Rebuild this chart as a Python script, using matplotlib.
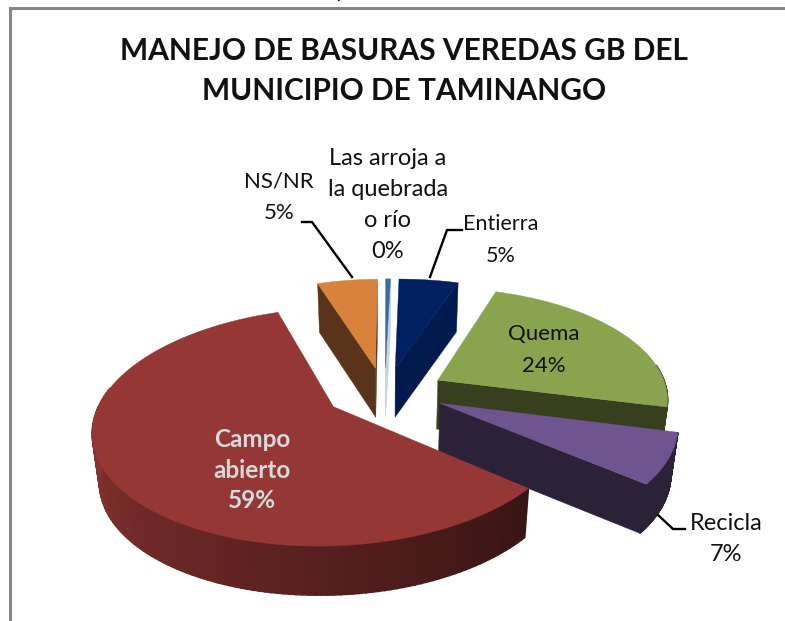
import numpy as np
import matplotlib
matplotlib.use('Agg')
import matplotlib.pyplot as plt
from matplotlib.patches import Polygon

# clockwise from 12 o'clock
names = ['Entierra', 'Quema', 'Recicla', 'Campo abierto', 'NS/NR', 'Las arroja']
values = [5, 24, 7, 59, 5, 0.4]
topColors = ['#002060', '#8aa34f', '#6f5590', '#953735', '#d9823b', '#376ba5']
wallColors = ['#001a4d', '#373f1e', '#2b2238', '#7a2c2a', '#59331a', '#c5d3e6']
drawOrder = [1, 0, 4, 5, 2, 3]

title = 'MANEJO DE BASURAS VEREDAS GB DEL\nMUNICIPIO DE TAMINANGO'

# projection of the pie, in pixels
cx, cy = 385, 392
Rx, Ry = 230, 111
persp = 0.165
shear = 5
explode = 0.265
explodeY = 0.85
depth = 49

plt.rcParams['font.family'] = ['Lato', 'DejaVu Sans']

fig = plt.figure(figsize=(7.85, 6.21), dpi=100)
ax = fig.add_axes([0, 0, 1, 1])
ax.set_xlim(0, 785)
ax.set_ylim(621, 0)
ax.axis('off')


def project(u, v, z=0):
    s = 1 / (1 + persp * v)
    k = 1 - 0.025 * z
    return cx + Rx * u * s * k + shear * v, cy - Ry * v * s + depth * z


def rimPoint(a, t, z=0):
    return project(np.sin(a) * explode + np.sin(t), np.cos(a) * explode * explodeY + np.cos(t), z)


def apexPoint(a, z=0):
    return project(np.sin(a) * explode, np.cos(a) * explode * explodeY, z)


def darken(hexColor, f):
    rgb = np.array(matplotlib.colors.to_rgb(hexColor))
    return tuple(np.clip(rgb * f, 0, 1))


def campoShade(t):
    # wall of the big slice fades to almost black towards the right
    return 0.38 + 0.004 * (np.degrees(t) - 130)


def drawSlice(t0, t1, top, wall, isCampo):
    mid = (t0 + t1) / 2
    # cut faces, only the ones that look at the viewer
    for t, sign in [(t0, -1), (t1, 1)]:
        dx = rimPoint(mid, t)[0] - apexPoint(mid)[0]
        if dx * sign > 0.5:
            pts = [apexPoint(mid), rimPoint(mid, t), rimPoint(mid, t, 1), apexPoint(mid, 1)]
            ax.add_patch(Polygon(pts, closed=True, fc=wall, ec=wall, lw=0.3))
    if t1 - t0 < np.radians(3):
        pts = [apexPoint(mid), rimPoint(mid, t1), rimPoint(mid, t1, 1), apexPoint(mid, 1)]
        ax.add_patch(Polygon(pts, closed=True, fc=wall, ec=wall, lw=0.3))
    # outer wall
    ts = np.linspace(t0, t1, 160)
    for a, b in zip(ts[:-1], ts[1:]):
        if np.cos(a) > 0.15:
            continue
        color = wall
        if isCampo:
            color = darken(topColors[3], min(campoShade(a), 1.0))
        pts = [rimPoint(mid, a), rimPoint(mid, b), rimPoint(mid, b, 1), rimPoint(mid, a, 1)]
        ax.add_patch(Polygon(pts, closed=True, fc=color, ec=color, lw=1.2))
    # top face
    pts = [apexPoint(mid)] + [rimPoint(mid, t) for t in ts]
    ax.add_patch(Polygon(pts, closed=True, fc=top, ec=top, lw=0.3))


shares = np.array(values) / sum(values) * 2 * np.pi
edges = np.concatenate([[0], np.cumsum(shares)])
for i in drawOrder:
    drawSlice(edges[i], edges[i + 1], topColors[i], wallColors[i], names[i] == 'Campo abierto')

# chart frame
ax.plot([9.5, 9.5, 785], [621, 8, 8], color='#868686', lw=2.2, solid_joinstyle='miter')

ax.text(404, 71, title, ha='center', va='center', fontsize=21.5, fontweight='bold',
        color='#111111', linespacing=1.52)
ax.text(340, -9, 'y', ha='center', va='center', fontsize=15, color='black')

labelSize = 16
ax.text(388, 205, 'Las arroja a\nla quebrada\no río\n0%', ha='center', va='center',
        fontsize=17, linespacing=1.58, color='#111111')
ax.text(279, 197, 'NS/NR\n5%', ha='center', va='center', fontsize=labelSize, linespacing=1.7, color='#111111')
ax.text(501, 240, 'Entierra\n5%', ha='center', va='center', fontsize=15.5, linespacing=1.72, color='#111111')
ax.text(544, 350, 'Quema\n24%', ha='center', va='center', fontsize=labelSize, linespacing=1.7, color='#111111')
ax.text(726, 539, 'Recicla\n7%', ha='center', va='center', fontsize=17, linespacing=1.58, color='#111111')
ax.text(252, 470, 'Campo\nabierto\n59%', ha='center', va='center', fontsize=17.5,
        fontweight='bold', linespacing=1.42, color='#d9d9d9')

# leader lines
ax.plot([302, 312, 352], [222, 222, 277], color='black', lw=1.7)
ax.plot([462, 447, 430], [230, 230, 277], color='black', lw=1.7)
ax.plot([685, 673, 658], [529, 529, 515], color='black', lw=1.7)

fig.savefig('out.png', dpi=100)
